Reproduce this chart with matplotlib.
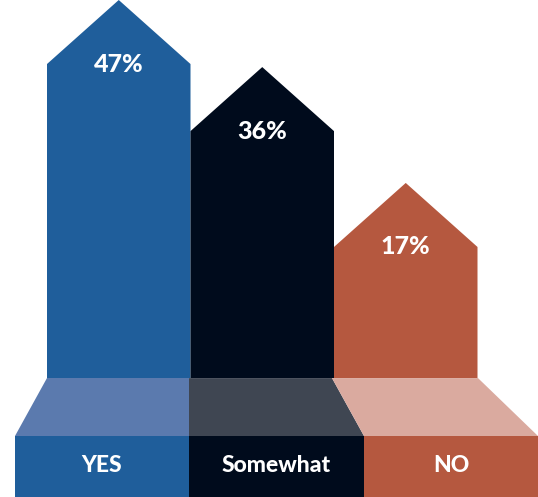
import matplotlib.pyplot as plt
from matplotlib.patches import Polygon

# data
categories = ['YES', 'Somewhat', 'NO']
values = [47, 36, 17]
labels = ['47%', '36%', '17%']

# styles
bar_colors = ['#1F5E9B', '#000B1C', '#B5583F']
shadow_colors = ['#5B7AAE', '#3F4652', '#DAAA9F']

# layout (x in pixel-like units, y in percent units)
bar_left = 47
bar_w = 143.5
base = -4.5
arrow_h = 10.5
floor = -14.0
ymin, ymax = -24.0, 57.5
bottom_edges = [15, 189, 364, 538]
top_edges = [47, 189, 332, 478]

fig = plt.figure(figsize=(5.38, 4.97), dpi=100)
ax = fig.add_axes([0, 0, 1, 1])
ax.set_xlim(0, 538)
ax.set_ylim(ymin, ymax)
ax.axis('off')

for i, (cat, v) in enumerate(zip(categories, values)):
    x0 = bar_left + i * bar_w
    x1 = x0 + bar_w
    xc = (x0 + x1) / 2
    # bar with arrow head
    shape = [(x0, base), (x1, base), (x1, v), (xc, v + arrow_h), (x0, v)]
    ax.add_patch(Polygon(shape, closed=True, color=bar_colors[i], lw=0))
    ax.text(xc, v, labels[i], color='white', fontsize=18, fontweight='black',
            family='Lato', ha='center', va='center')

    # shadow trapezoid
    tl, tr = top_edges[i], top_edges[i + 1]
    bl, br = bottom_edges[i], bottom_edges[i + 1]
    trap = [(tl, base), (tr, base), (br, floor), (bl, floor)]
    ax.add_patch(Polygon(trap, closed=True, color=shadow_colors[i], lw=0))

    # category box
    box = [(bl, floor), (br, floor), (br, ymin), (bl, ymin)]
    ax.add_patch(Polygon(box, closed=True, color=bar_colors[i], lw=0))
    ax.text((bl + br) / 2, (floor + ymin) / 2 + 0.2, cat, color='white', fontsize=16.5,
            fontweight='black', family='Lato', ha='center', va='center')

fig.savefig('out.png', dpi=100)
